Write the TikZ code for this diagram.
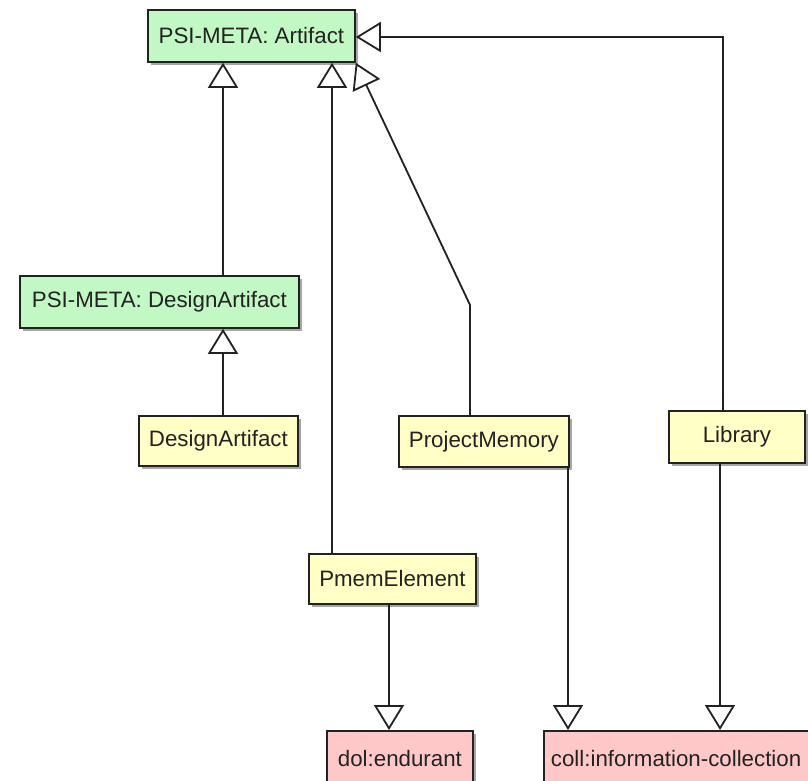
\documentclass[tikz,border=0pt]{standalone}
\usepackage{fontspec}
\setmainfont{Liberation Sans}
\usetikzlibrary{arrows.meta,shadows,calc}
\definecolor{clsgreen}{HTML}{C2F8C4}
\definecolor{clsyellow}{HTML}{FFFFC6}
\definecolor{clspink}{HTML}{FFC8C8}
\definecolor{ink}{HTML}{222222}
\begin{document}
\begin{tikzpicture}[x=1pt,y=-1pt,
  cls/.style={draw=ink, line width=1.8pt, anchor=north west, inner sep=0pt,
    font=\fontsize{22.3}{26}\selectfont, text=ink,
    drop shadow={shadow xshift=3pt, shadow yshift=-3pt, opacity=0.35, fill=black}},
  green/.style={cls, fill=clsgreen},
  yellow/.style={cls, fill=clsyellow},
  pink/.style={cls, fill=clspink},
  gen/.style={draw=ink, line width=1.8pt,
    -{Triangle[length=25pt, width=30pt, fill=white, line width=1.8pt]}}]
\useasboundingbox (0,0) rectangle (808,780);
\clip (0,0) rectangle (808,780);
\fill[white] (0,0) rectangle (808,780);

\node[green, minimum width=207pt, minimum height=52pt] (art) at (147,9) {PSI-META: Artifact};
\node[green, minimum width=279pt, minimum height=52pt] (psida) at (19,275) {PSI-META: DesignArtifact};
\node[yellow, minimum width=159pt, minimum height=50pt] (da) at (138,415) {DesignArtifact};
\node[yellow, minimum width=170pt, minimum height=51pt] (pm) at (398,415) {ProjectMemory};
\node[yellow, minimum width=136pt, minimum height=52pt] (lib) at (668,410) {Library};
\node[yellow, minimum width=167pt, minimum height=50pt] (pme) at (308,553) {PmemElement};
\node[pink, minimum width=146pt, minimum height=56pt] (dol) at (326,730) {dol:endurant};
\node[pink, minimum width=290pt, minimum height=56pt, text width=276pt, align=left] (coll) at (543,730) {coll:information-collection};

\coordinate (xa) at (223,0);
\coordinate (xb) at (332,0);
\coordinate (xc) at (470,305);
\coordinate (xd) at (723,37);
\coordinate (xe) at (568,0);
\coordinate (xf) at (720,0);
\coordinate (xg) at (389,0);

\draw[gen] (da.north -| xa) -- (psida.south -| xa);
\draw[gen] (psida.north -| xa) -- (art.south -| xa);
\draw[gen] (pme.north -| xb) -- (art.south -| xb);
\draw[gen] (pm.north -| xc) -- (xc) -- (art.south east);
\draw[gen] (lib.north -| xd) -- (xd) -- (art.east |- xd);
\draw[gen] (pm.south -| xe) -- (coll.north -| xe);
\draw[gen] (lib.south -| xf) -- (coll.north -| xf);
\draw[gen] (pme.south -| xg) -- (dol.north -| xg);
\end{tikzpicture}
\end{document}
